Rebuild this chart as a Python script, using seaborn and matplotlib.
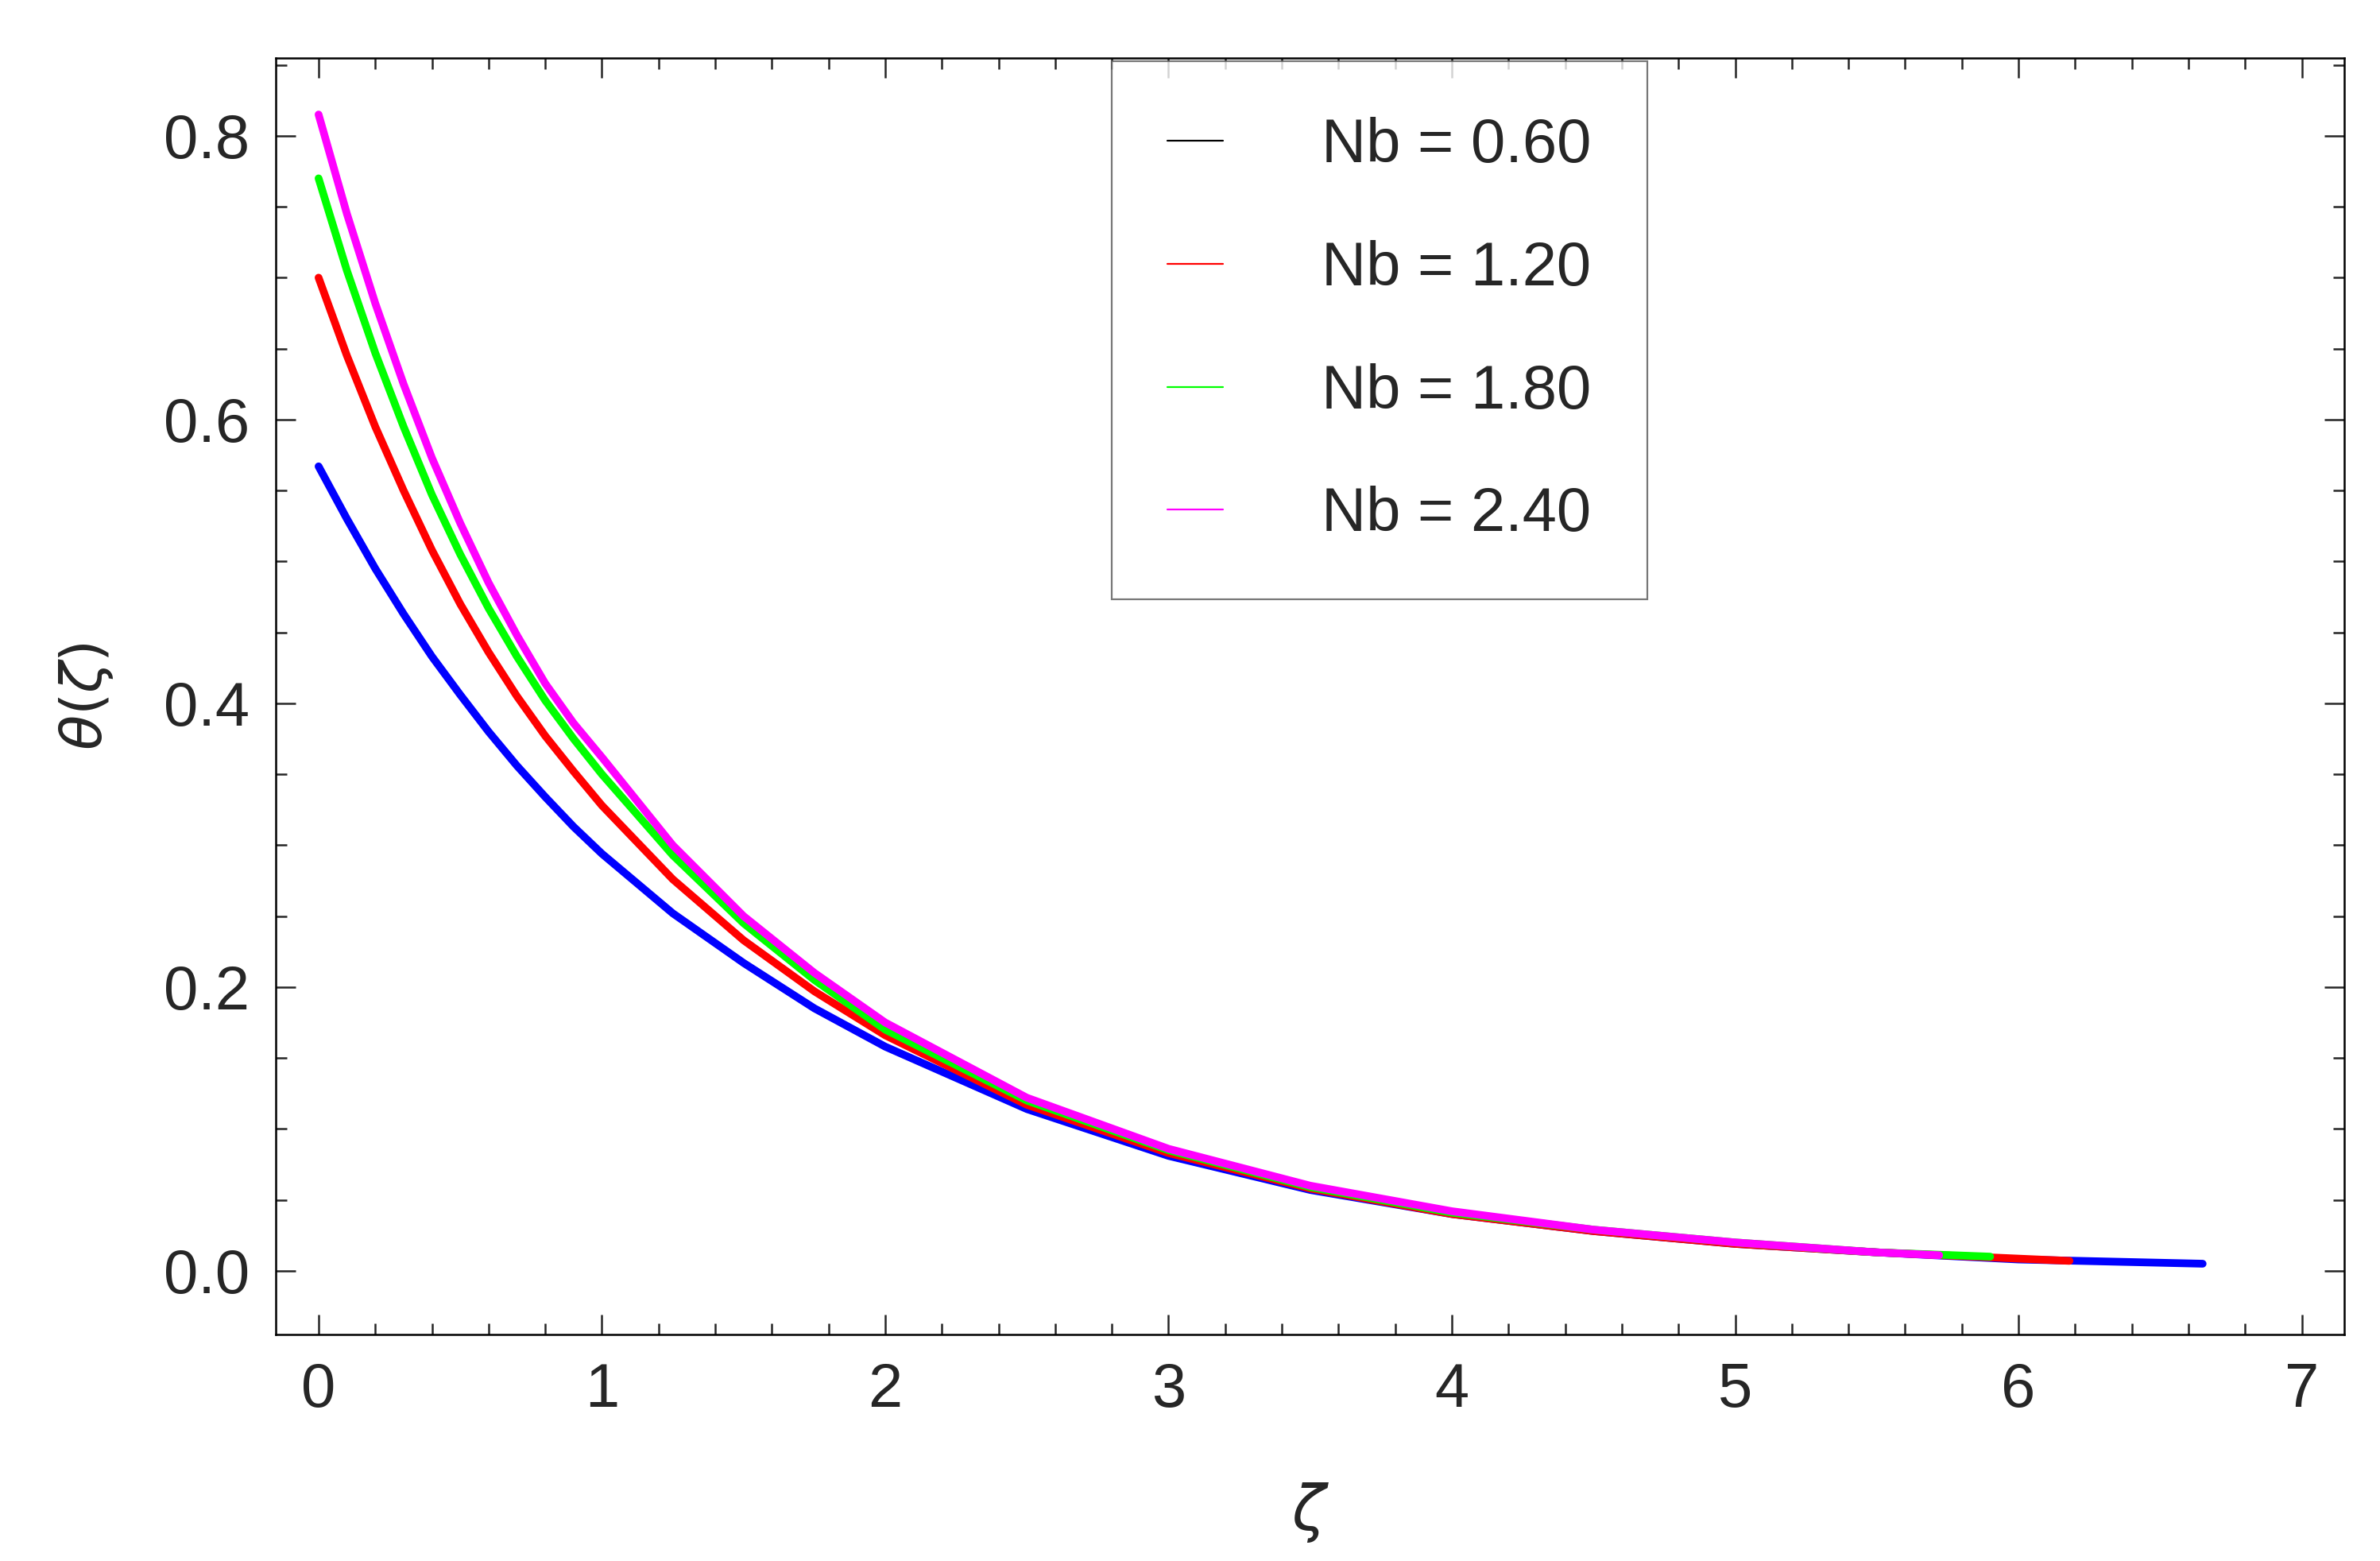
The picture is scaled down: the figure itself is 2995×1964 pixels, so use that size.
import numpy as np
import pandas as pd
import matplotlib
matplotlib.use("Agg")
import matplotlib.pyplot as plt
import seaborn as sns
from matplotlib.ticker import MultipleLocator, FormatStrFormatter
from matplotlib.lines import Line2D

# Values
x_common = [0, 0.1, 0.2, 0.3, 0.4, 0.5, 0.6, 0.7, 0.8, 0.9, 1.0, 1.25, 1.5, 1.75, 2.0,
            2.5, 3.0, 3.5, 4.0, 4.5, 5.0, 5.5]
y_blue = [0.567, 0.53, 0.495, 0.463, 0.433, 0.406, 0.38, 0.356, 0.334, 0.313, 0.294,
          0.252, 0.217, 0.185, 0.158, 0.114, 0.081, 0.057, 0.04, 0.028, 0.019, 0.013]
y_red = [0.70, 0.645, 0.595, 0.55, 0.508, 0.47, 0.436, 0.405, 0.377, 0.352, 0.328,
         0.276, 0.233, 0.197, 0.166, 0.117, 0.083, 0.058, 0.04, 0.028, 0.019, 0.013]
y_green = [0.77, 0.705, 0.647, 0.595, 0.547, 0.505, 0.467, 0.433, 0.402, 0.375, 0.35,
           0.293, 0.245, 0.205, 0.17, 0.12, 0.085, 0.059, 0.041, 0.029, 0.02, 0.013]
y_mag = [0.815, 0.745, 0.682, 0.625, 0.573, 0.527, 0.485, 0.448, 0.414, 0.386, 0.362,
         0.30, 0.25, 0.21, 0.175, 0.122, 0.086, 0.06, 0.042, 0.029, 0.02, 0.013]
# tails (each curve ends at a different zeta)
x_tail_blue, y_tail_blue = [6.0, 6.65], [0.008, 0.005]
x_tail_red, y_tail_red = [6.18], [0.007]
x_tail_green, y_tail_green = [5.9], [0.01]
x_tail_mag, y_tail_mag = [5.72], [0.011]

labels = ['Nb = 0.60', 'Nb = 1.20', 'Nb = 1.80', 'Nb = 2.40']
curve_colors = ['#0000ff', '#ff0000', '#00ff00', '#ff00ff']
legend_colors = ['black', '#ff0000', '#00ff00', '#ff00ff']

sns.set_style("white")
plt.rcParams['font.family'] = ['Liberation Sans', 'DejaVu Sans']
plt.rcParams['mathtext.fontset'] = 'dejavusans'

fig = plt.figure(figsize=(14.975, 9.82), dpi=200)
ax = fig.add_axes([0.116, 0.145, 0.869, 0.818])

series = [(x_common + x_tail_blue, y_blue + y_tail_blue),
          (x_common + x_tail_red, y_red + y_tail_red),
          (x_common + x_tail_green, y_green + y_tail_green),
          (x_common + x_tail_mag, y_mag + y_tail_mag)]
for (xs, ys), c in zip(series, curve_colors):
    sns.lineplot(x=xs, y=ys, color=c, linewidth=3.5, ax=ax)

ax.set_xlim(-0.15, 7.15)
ax.set_ylim(-0.045, 0.855)
ax.xaxis.set_major_locator(MultipleLocator(1))
ax.xaxis.set_minor_locator(MultipleLocator(0.2))
ax.yaxis.set_major_locator(MultipleLocator(0.2))
ax.yaxis.set_minor_locator(MultipleLocator(0.05))
ax.yaxis.set_major_formatter(FormatStrFormatter('%.1f'))
ax.tick_params(which='both', direction='in', top=True, right=True, bottom=True, left=True)
ax.tick_params(which='major', length=9, width=0.9, labelsize=28, pad=12)
ax.tick_params(which='minor', length=5, width=0.9)
for s in ax.spines.values():
    s.set_linewidth(0.9)
    s.set_color('black')

ax.set_xlabel(r'$\zeta$', fontsize=28, labelpad=28)
ax.set_ylabel(r'$\theta(\zeta)$', fontsize=26, labelpad=22)

handles = [Line2D([0], [0], color=c, linewidth=0.8) for c in legend_colors]
leg = ax.legend(handles, labels, loc='upper left', bbox_to_anchor=(0.404, 0.997),
                fontsize=28, frameon=True, fancybox=False, edgecolor='#555555',
                labelspacing=1.05, borderpad=0.9, handlelength=0.9, handletextpad=1.6,
                borderaxespad=0.0)
leg.get_frame().set_linewidth(0.8)

fig.savefig('out.png', dpi=200)
